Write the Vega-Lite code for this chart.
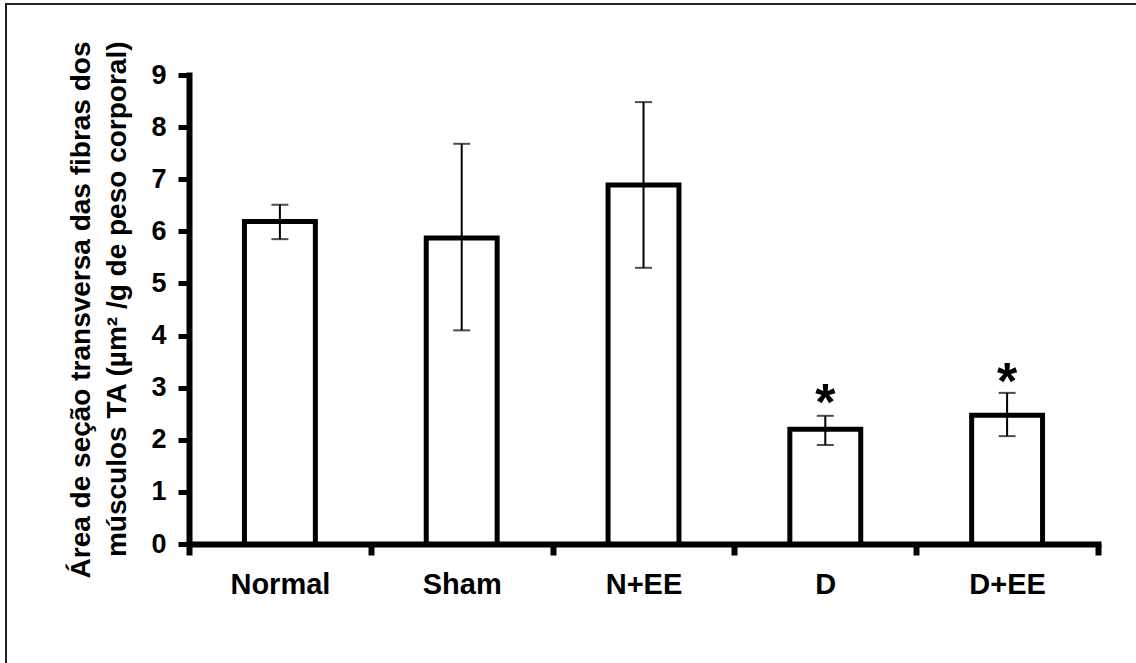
{
  "$schema": "https://vega.github.io/schema/vega-lite/v6.json",
  "width": 1133,
  "height": 662,
  "autosize": {"type": "none"},
  "padding": {"left": 6, "top": 4, "right": -3, "bottom": -3},
  "background": "white",
  "config": {
    "view": {"stroke": "#222222", "strokeWidth": 2, "fill": "white"},
    "axis": {
      "domainColor": "black",
      "domainWidth": 6,
      "domainCap": "square",
      "tickColor": "black",
      "tickWidth": 5,
      "tickSize": 11,
      "labelFont": "Liberation Sans",
      "labelFontWeight": "bold",
      "labelColor": "black",
      "titleFont": "Liberation Sans",
      "titleFontWeight": "bold",
      "titleColor": "black",
      "grid": false
    }
  },
  "data": {
    "values": [
      {"group": "Normal", "mean": 6.19, "lo": 5.85, "hi": 6.51, "star": null},
      {"group": "Sham", "mean": 5.87, "lo": 4.1, "hi": 7.68, "star": null},
      {"group": "N+EE", "mean": 6.89, "lo": 5.3, "hi": 8.48, "star": null},
      {"group": "D", "mean": 2.2, "lo": 1.9, "hi": 2.46, "star": 3.0},
      {"group": "D+EE", "mean": 2.47, "lo": 2.07, "hi": 2.9, "star": 3.4}
    ]
  },
  "encoding": {
    "x": {
      "field": "group",
      "type": "nominal",
      "sort": null,
      "scale": {"type": "band", "range": [183, 1092], "paddingInner": 0, "paddingOuter": 0},
      "axis": {
        "orient": "bottom",
        "offset": -122,
        "title": null,
        "tickBand": "extent",
        "labelAngle": 0,
        "labelFontSize": 29,
        "labelPadding": 15,
        "tickWidth": 6
      }
    }
  },
  "layer": [
    {
      "mark": {"type": "bar", "fill": "white", "stroke": "black", "strokeWidth": 5, "width": {"band": 0.39}},
      "encoding": {
        "y": {
          "field": "mean",
          "type": "quantitative",
          "scale": {"domain": [0, 9], "range": [540, 71], "nice": false, "zero": true},
          "axis": {
            "orient": "left",
            "offset": -183,
            "values": [0, 1, 2, 3, 4, 5, 6, 7, 8, 9],
            "format": "d",
            "labelFontSize": 27,
            "labelPadding": 12,
            "title": ["Área de seção transversa das fibras dos", "músculos TA (µm² /g de peso corporal)"],
            "titleFontSize": 28,
            "titleAngle": -90,
            "titleAlign": "right",
            "titleBaseline": "top",
            "titleX": -122,
            "titleY": 37,
            "titleLineHeight": 36
          }
        }
      }
    },
    {
      "mark": {"type": "rule", "color": "black", "strokeWidth": 2},
      "encoding": {
        "y": {"field": "lo", "type": "quantitative"},
        "y2": {"field": "hi"}
      }
    },
    {
      "mark": {"type": "tick", "color": "black", "size": 17, "thickness": 2},
      "encoding": {"y": {"field": "hi", "type": "quantitative"}}
    },
    {
      "mark": {"type": "tick", "color": "black", "size": 17, "thickness": 2},
      "encoding": {"y": {"field": "lo", "type": "quantitative"}}
    },
    {
      "transform": [{"filter": "datum.star != null"}],
      "mark": {"type": "text", "text": "*", "font": "Liberation Sans", "fontWeight": "bold", "fontSize": 52, "color": "black", "baseline": "alphabetic", "dy": 32},
      "encoding": {"y": {"field": "star", "type": "quantitative"}}
    }
  ]
}
